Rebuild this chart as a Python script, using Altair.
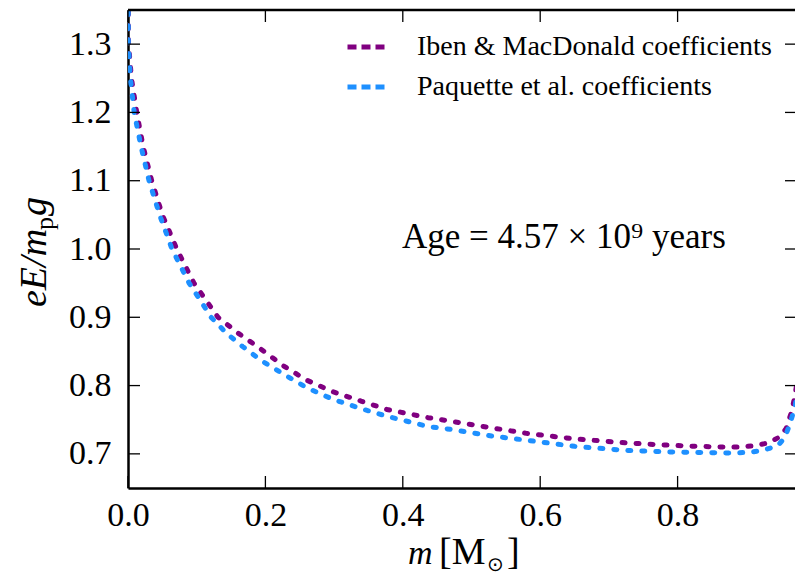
import altair as alt
import pandas as pd

# ---- data ----
iben_m = [0.0, 0.0008, 0.005, 0.0127, 0.022, 0.0345, 0.05, 0.071, 0.096, 0.131, 0.16, 0.19,
          0.226, 0.26, 0.298, 0.34, 0.377, 0.437, 0.469, 0.53, 0.58, 0.65, 0.726, 0.78,
          0.828, 0.87, 0.891, 0.912, 0.932, 0.949, 0.958, 0.966, 0.971, 0.976]
iben_y = [1.45, 1.30, 1.25, 1.20, 1.15, 1.10, 1.05, 1.00, 0.95, 0.90, 0.877, 0.856,
          0.829, 0.808, 0.791, 0.777, 0.765, 0.753, 0.748, 0.738, 0.730, 0.722, 0.716, 0.713,
          0.711, 0.710, 0.710, 0.712, 0.716, 0.725, 0.737, 0.762, 0.786, 0.82]

paq_m = [0.0, 0.0005, 0.0035, 0.009, 0.019, 0.0306, 0.046, 0.064, 0.089, 0.121, 0.143, 0.167,
         0.195, 0.226, 0.26, 0.298, 0.34, 0.377, 0.437, 0.469, 0.53, 0.58, 0.65, 0.726,
         0.78, 0.828, 0.884, 0.91, 0.927, 0.946, 0.956, 0.964, 0.971, 0.976]
paq_y = [1.45, 1.30, 1.25, 1.20, 1.15, 1.10, 1.05, 1.00, 0.95, 0.90, 0.877, 0.857,
         0.836, 0.817, 0.797, 0.780, 0.766, 0.755, 0.740, 0.736, 0.726, 0.720, 0.711, 0.705,
         0.703, 0.702, 0.701, 0.703, 0.706, 0.712, 0.724, 0.745, 0.77, 0.80]

series_names = ["Iben & MacDonald coefficients", "Paquette et al. coefficients"]
series_colors = ["#800080", "#1e90ff"]

x_ticks = [0.0, 0.2, 0.4, 0.6, 0.8]
y_ticks = [0.7, 0.8, 0.9, 1.0, 1.1, 1.2, 1.3]

x_domain = [0.0, 0.9709]
y_domain = [0.65, 1.35]

W, H = 667, 478
SERIF = "Liberation Serif"

rows = [{"m": a, "y": b, "series": series_names[0]} for a, b in zip(iben_m, iben_y)]
rows += [{"m": a, "y": b, "series": series_names[1]} for a, b in zip(paq_m, paq_y)]
df = pd.DataFrame(rows)

xscale = alt.Scale(domain=x_domain, nice=False, zero=False)
yscale = alt.Scale(domain=y_domain, nice=False, zero=False)

lines = alt.Chart(df).mark_line(
    strokeWidth=5, strokeDash=[3, 11], strokeCap="round", clip=True
).encode(
    x=alt.X("m:Q", scale=xscale, axis=alt.Axis(
        values=x_ticks, format=".1f", title=None, ticks=False, tickSize=0, labelFlush=False,
        labelFont=SERIF, labelFontSize=34, labelColor="black", labelPadding=10,
        domainColor="black", domainWidth=2.5, grid=False)),
    y=alt.Y("y:Q", scale=yscale, axis=alt.Axis(
        values=y_ticks, format=".1f", title=None, ticks=False, tickSize=0, labelFlush=False,
        labelFont=SERIF, labelFontSize=34, labelColor="black", labelPadding=17,
        domainColor="black", domainWidth=2.5, grid=False)),
    color=alt.Color("series:N", scale=alt.Scale(domain=series_names, range=series_colors),
                    legend=alt.Legend(orient="none", legendX=217, legendY=16, title=None,
                                      symbolType="stroke", symbolSize=1369, symbolStrokeWidth=5,
                                      symbolDash=[9, 5], labelFont=SERIF, labelFontSize=28,
                                      labelColor="black", labelOffset=30, rowPadding=5,
                                      padding=0, labelLimit=600)),
)

# inward ticks on all four sides
dxt = pd.DataFrame({"m": x_ticks})
dyt = pd.DataFrame({"y": y_ticks})
tick_bottom = alt.Chart(dxt).mark_rule(color="black", strokeWidth=1.3).encode(
    x="m:Q", y=alt.value(H), y2=alt.value(H - 12))
tick_top = alt.Chart(dxt).mark_rule(color="black", strokeWidth=1.3).encode(
    x="m:Q", y=alt.value(0), y2=alt.value(12))
tick_left = alt.Chart(dyt).mark_rule(color="black", strokeWidth=1.3).encode(
    y="y:Q", x=alt.value(0), x2=alt.value(12))
tick_right = alt.Chart(dyt).mark_rule(color="black", strokeWidth=1.3).encode(
    y="y:Q", x=alt.value(W - 10), x2=alt.value(W))
top_spine = alt.Chart(pd.DataFrame({"a": [0]})).mark_rule(color="black", strokeWidth=2.5).encode(
    x=alt.value(0), x2=alt.value(W), y=alt.value(0))


def txt(s, x, y, size, style="normal", angle=0, align="left"):
    return alt.Chart(pd.DataFrame({"t": [s]})).mark_text(
        font=SERIF, fontSize=size, fontStyle=style, color="black", align=align,
        baseline="alphabetic", angle=angle).encode(
        text="t:N", x=alt.value(x), y=alt.value(y))


ox, oy = 128, 10  # plot origin in page pixels
age = txt("Age = 4.57 \u00d7 10\u2079 years", 402 - ox, 248 - oy, 35)

# x title: m [M_sun]
xt1 = txt("m", 408 - ox, 564 - oy, 34, "italic")
xt2 = txt("[M", 439 - ox, 564 - oy, 38)
xt3 = alt.Chart(pd.DataFrame({"t": ["\u2299"]})).mark_text(
    font="DejaVu Sans", fontSize=20, color="black", align="left", baseline="alphabetic").encode(
    text="t:N", x=alt.value(487 - ox), y=alt.value(571 - oy))
xt4 = txt("]", 507 - ox, 564 - oy, 38)

# y title: eE/m_p g (rotated)
yt1 = txt("eE/m", 46 - ox, 307 - oy, 38, "italic", angle=270)
yt2 = txt("p", 53 - ox, 230 - oy, 26, "normal", angle=270)
yt3 = txt("g", 46 - ox, 216 - oy, 38, "italic", angle=270)

chart = alt.layer(
    lines, tick_bottom, tick_top, tick_left, tick_right, top_spine,
    age, xt1, xt2, xt3, xt4, yt1, yt2, yt3
).properties(
    width=W, height=H,
    autosize=alt.AutoSizeParams(type="none"),
    padding={"left": ox, "top": oy, "right": 0, "bottom": 577 - oy - H},
).configure_view(stroke=None).configure_axis(
    labelFont=SERIF
).configure(background="white")

chart.save("out.html", embed_options={"renderer": "svg", "actions": False})
